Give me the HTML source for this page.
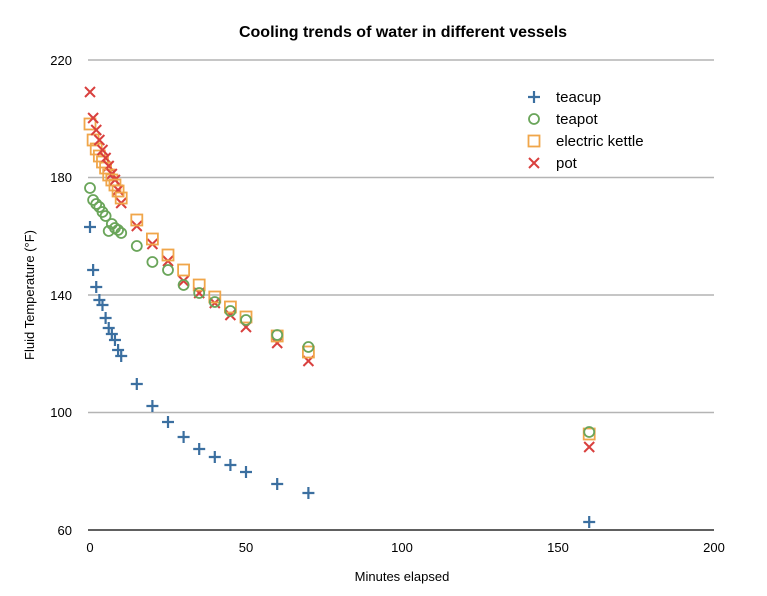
<!DOCTYPE html>
<html><head><meta charset="utf-8"><style>body{margin:0;background:#fff}svg{display:block}text{font-family:"Liberation Sans",sans-serif}</style></head><body>
<svg id="s" width="767" height="596" xmlns="http://www.w3.org/2000/svg">
<rect width="767" height="596" fill="#fff"/>
<text x="403" y="37" font-size="16" font-weight="bold" text-anchor="middle">Cooling trends of water in different vessels</text>
<g stroke="#b4b4b4" stroke-width="1.5">
<line x1="88" y1="60" x2="714" y2="60"/><line x1="88" y1="177.5" x2="714" y2="177.5"/><line x1="88" y1="295" x2="714" y2="295"/><line x1="88" y1="412.5" x2="714" y2="412.5"/>
</g>
<line x1="88" y1="530" x2="714" y2="530" stroke="#000" stroke-width="1.2"/>
<g font-size="13" text-anchor="end"><text x="72" y="65">220</text><text x="72" y="182">180</text><text x="72" y="300">140</text><text x="72" y="417">100</text><text x="72" y="535">60</text></g>
<g font-size="13" text-anchor="middle"><text x="90" y="552">0</text><text x="246" y="552">50</text><text x="402" y="552">100</text><text x="558" y="552">150</text><text x="714" y="552">200</text></g>
<text x="402" y="581" font-size="13" text-anchor="middle">Minutes elapsed</text>
<text transform="translate(34,295) rotate(-90)" font-size="13" text-anchor="middle">Fluid Temperature (°F)</text>
<g id="d"></g>
<g font-size="15"><text x="556" y="102">teacup</text><text x="556" y="124">teapot</text><text x="556" y="146">electric kettle</text><text x="556" y="168">pot</text></g>
</svg>
<script>
var t=[0,1,2,3,4,5,6,7,8,9,10,15,20,25,30,35,40,45,50,60,70,160];
var S={
cup:[227,270,287,300,305,318,328,334,340,350,356,384,406,422,437,449,457,465,472,484,493,522],
tp:[188,200,204,207,212,216,231,224,228,230,233,246,262,270,285,293,302,311,320,335,347,432],
ke:[124,140,149,156,162,168,175,180,185,191,198,220,239,255,270,285,297,307,317,336,352,434],
pot:[92,118,130,140,150,158,166,174,180,190,203,226,244,261,281,293,303,315,327,343,361,447]};
var h='';
function plus(x,y){return '<path d="M'+(x-6)+' '+y+'h12M'+x+' '+(y-6)+'v12" stroke="#3b6fa0" stroke-width="2.2"/>';}
function circ(x,y){return '<circle cx="'+x+'" cy="'+y+'" r="5" fill="none" stroke="#6aa55a" stroke-width="1.8"/>';}
function sq(x,y){return '<rect x="'+(x-5.5)+'" y="'+(y-5.5)+'" width="11" height="11" fill="none" stroke="#f0a64a" stroke-width="1.8"/>';}
function cr(x,y){return '<path d="M'+(x-5)+' '+(y-5)+'l10 10M'+(x+5)+' '+(y-5)+'l-10 10" stroke="#d9403e" stroke-width="2"/>';}
for(var i=0;i<t.length;i++){var x=90+3.12*t[i];
h+=cr(x,S.pot[i])+sq(x,S.ke[i])+circ(x,S.tp[i])+plus(x,S.cup[i]);}
h+=plus(534,97)+circ(534,119)+sq(534,141)+cr(534,163);
document.getElementById('d').innerHTML=h;
</script>
</body></html>
